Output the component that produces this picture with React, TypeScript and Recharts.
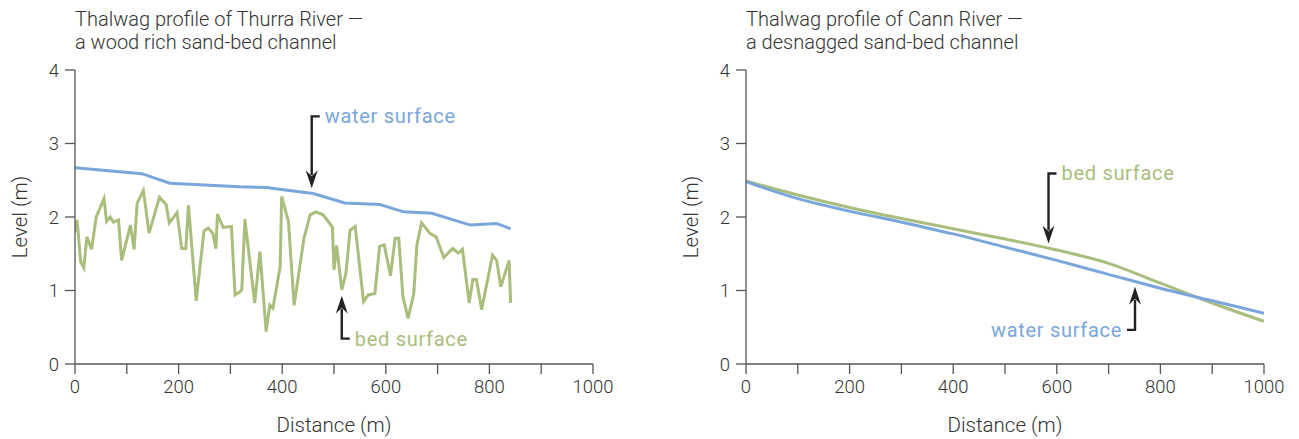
import React from "react";
import {
  LineChart,
  Line,
  XAxis,
  YAxis,
  ReferenceDot,
  Label,
} from "recharts";

// Thurra River (wood rich)
const thurraBedDist = [0, 4, 11, 17, 23, 32, 41, 56, 61, 68, 74, 84, 90, 107, 114, 120, 132, 143, 163, 176, 182, 197, 206, 214, 219, 234, 249, 257, 266, 272, 275, 286, 302, 309, 318, 322, 328, 347, 357, 369, 376, 382, 396, 399, 412, 423, 442, 454, 465, 479, 492, 497, 500, 505, 515, 523, 531, 541, 557, 566, 579, 588, 597, 609, 618, 625, 633, 643, 654, 660, 669, 685, 697, 712, 729, 740, 748, 761, 768, 775, 785, 806, 814, 822, 838, 841];
const thurraBedLevel = [1.8, 1.96, 1.39, 1.31, 1.73, 1.56, 2.0, 2.25, 1.94, 2.0, 1.93, 1.96, 1.41, 1.89, 1.56, 2.19, 2.36, 1.78, 2.27, 2.17, 1.92, 2.06, 1.57, 1.57, 2.16, 0.86, 1.81, 1.85, 1.78, 1.57, 2.04, 1.86, 1.87, 0.94, 0.98, 1.01, 1.97, 0.83, 1.53, 0.44, 0.8, 0.76, 1.32, 2.28, 1.94, 0.8, 1.71, 2.03, 2.07, 2.03, 1.91, 1.86, 1.28, 1.61, 1.01, 1.23, 1.82, 1.87, 0.85, 0.94, 0.96, 1.6, 1.62, 1.2, 1.71, 1.71, 0.92, 0.62, 0.96, 1.62, 1.92, 1.78, 1.73, 1.45, 1.57, 1.51, 1.56, 0.83, 1.15, 1.15, 0.74, 1.48, 1.41, 1.05, 1.41, 0.83];
const thurraWaterDist = [0, 129, 183, 318, 370, 402, 460, 521, 589, 634, 689, 763, 814, 841];
const thurraWaterLevel = [2.67, 2.59, 2.46, 2.41, 2.4, 2.37, 2.32, 2.19, 2.17, 2.07, 2.05, 1.89, 1.91, 1.84];

// Cann River (desnagged)
const cannDist = [0, 100, 200, 300, 400, 500, 600, 700, 800, 900, 1000];
const cannBedLevel = [2.49, 2.3, 2.13, 1.98, 1.84, 1.7, 1.55, 1.37, 1.1, 0.83, 0.58];
const cannWaterLevel = [2.48, 2.25, 2.08, 1.93, 1.77, 1.59, 1.41, 1.22, 1.03, 0.86, 0.69];

const xTicks = [0, 100, 200, 300, 400, 500, 600, 700, 800, 900, 1000];
const yTicks = [0, 1, 2, 3, 4];

const BLUE = "#7aa6dc";
const GREEN = "#a9be7c";
const AXIS = "#555";
const TEXT = "#333";
const FONT = "Roboto, sans-serif";

const zip = (xs: number[], ys: number[]) => xs.map((x, i) => ({ x, y: ys[i] }));

type AnnoProps = {
  cx?: number;
  cy?: number;
  text: string;
  color: string;
  dir: "down" | "up";
  len: number;
  side: "right" | "left";
};

function Annotation({ cx = 0, cy = 0, text, color, dir, len, side }: AnnoProps) {
  const s = dir === "down" ? -1 : 1; // shaft goes up (down arrow) or down (up arrow)
  const end = cy + s * len;
  const bx = side === "right" ? cx + 8 : cx - 8;
  const head =
    dir === "down"
      ? `${cx - 6},${cy - 18} ${cx},${cy - 12} ${cx + 6},${cy - 18} ${cx},${cy}`
      : `${cx - 6},${cy + 18} ${cx},${cy + 12} ${cx + 6},${cy + 18} ${cx},${cy}`;
  return (
    <g>
      <path
        d={`M${cx},${cy + s * 13} L${cx},${end} L${bx},${end}`}
        fill="none"
        stroke="#222"
        strokeWidth={2.4}
      />
      <polygon points={head} fill="#222" />
      <text
        x={side === "right" ? cx + 13 : cx - 13}
        y={end}
        dominantBaseline="central"
        textAnchor={side === "right" ? "start" : "end"}
        fill={color}
        fontSize={20}
        fontWeight={400}
        letterSpacing={0.7}
        fontFamily={FONT}
      >
        {text}
      </text>
    </g>
  );
}

type PanelProps = {
  left: number;
  title: string[];
  children: React.ReactNode;
};

function Panel({ left, title, children }: PanelProps) {
  return (
    <div style={{ position: "absolute", left, top: 0, width: 620, height: 439 }}>
      <div
        style={{
          position: "absolute",
          left: 75,
          top: 8,
          fontFamily: FONT,
          fontSize: 20,
          lineHeight: "23px",
          color: TEXT,
          fontWeight: 300,
          whiteSpace: "nowrap",
        }}
      >
        {title.map((t) => (
          <div key={t}>{t}</div>
        ))}
      </div>
      <LineChart
        width={620}
        height={439}
        margin={{ top: 70, right: 27, left: 0, bottom: 0 }}
        style={{ position: "absolute", left: 0, top: 0 }}
      >
        <XAxis
          type="number"
          dataKey="x"
          domain={[0, 1000]}
          ticks={xTicks}
          interval={0}
          tickFormatter={(v: number) => (v % 200 === 0 ? String(v) : "")}
          height={75}
          tickSize={10}
          stroke={AXIS}
          strokeWidth={1.3}
          tick={{ fill: TEXT, fontSize: 18.5, fontFamily: FONT, fontWeight: 300 }}
          tickMargin={6}
          allowDataOverflow
        >
          <Label
            value="Distance (m)"
            position="insideBottom"
            offset={7}
            fill={TEXT}
            fontSize={20.5}
            fontFamily={FONT}
            fontWeight={300}
          />
        </XAxis>
        <YAxis
          type="number"
          dataKey="y"
          domain={[0, 4]}
          ticks={yTicks}
          interval={0}
          width={75}
          tickSize={10}
          stroke={AXIS}
          strokeWidth={1.3}
          tick={{ fill: TEXT, fontSize: 18.5, fontFamily: FONT, fontWeight: 300 }}
          tickMargin={6}
        >
          <Label
            content={() => (
              <text
                x={20}
                y={217}
                transform="rotate(-90 20 217)"
                textAnchor="middle"
                dominantBaseline="central"
                fill={TEXT}
                fontSize={20.5}
                fontFamily={FONT}
                fontWeight={300}
              >
                Level (m)
              </text>
            )}
          />
        </YAxis>
        {children}
      </LineChart>
    </div>
  );
}

export default function App() {
  const thurraBed = zip(thurraBedDist, thurraBedLevel);
  const thurraWater = zip(thurraWaterDist, thurraWaterLevel);
  const cannBed = zip(cannDist, cannBedLevel);
  const cannWater = zip(cannDist, cannWaterLevel);

  return (
    <div style={{ position: "absolute", left: 0, top: 0, width: 1299, height: 439, background: "#fff" }}>
      <Panel left={0} title={["Thalwag profile of Thurra River —", "a wood rich sand-bed channel"]}>
        <Line data={thurraBed} dataKey="y" type="linear" stroke={GREEN} strokeWidth={3} dot={false} isAnimationActive={false} />
        <Line data={thurraWater} dataKey="y" type="linear" stroke={BLUE} strokeWidth={3} dot={false} isAnimationActive={false} />
        <ReferenceDot
          x={457}
          y={2.39}
          shape={(p: any) => (
            <Annotation cx={p.cx} cy={p.cy} text="water surface" color={BLUE} dir="down" len={72} side="right" />
          )}
        />
        <ReferenceDot
          x={515}
          y={0.93}
          shape={(p: any) => (
            <Annotation cx={p.cx} cy={p.cy} text="bed surface" color={GREEN} dir="up" len={43} side="right" />
          )}
        />
      </Panel>
      <Panel left={671} title={["Thalwag profile of Cann River —", "a desnagged sand-bed channel"]}>
        <Line data={cannBed} dataKey="y" type="monotone" stroke={GREEN} strokeWidth={3} dot={false} isAnimationActive={false} />
        <Line data={cannWater} dataKey="y" type="monotone" stroke={BLUE} strokeWidth={3} dot={false} isAnimationActive={false} />
        <ReferenceDot
          x={584}
          y={1.64}
          shape={(p: any) => (
            <Annotation cx={p.cx} cy={p.cy} text="bed surface" color={GREEN} dir="down" len={70} side="right" />
          )}
        />
        <ReferenceDot
          x={751}
          y={1.05}
          shape={(p: any) => (
            <Annotation cx={p.cx} cy={p.cy} text="water surface" color={BLUE} dir="up" len={43} side="left" />
          )}
        />
      </Panel>
    </div>
  );
}
